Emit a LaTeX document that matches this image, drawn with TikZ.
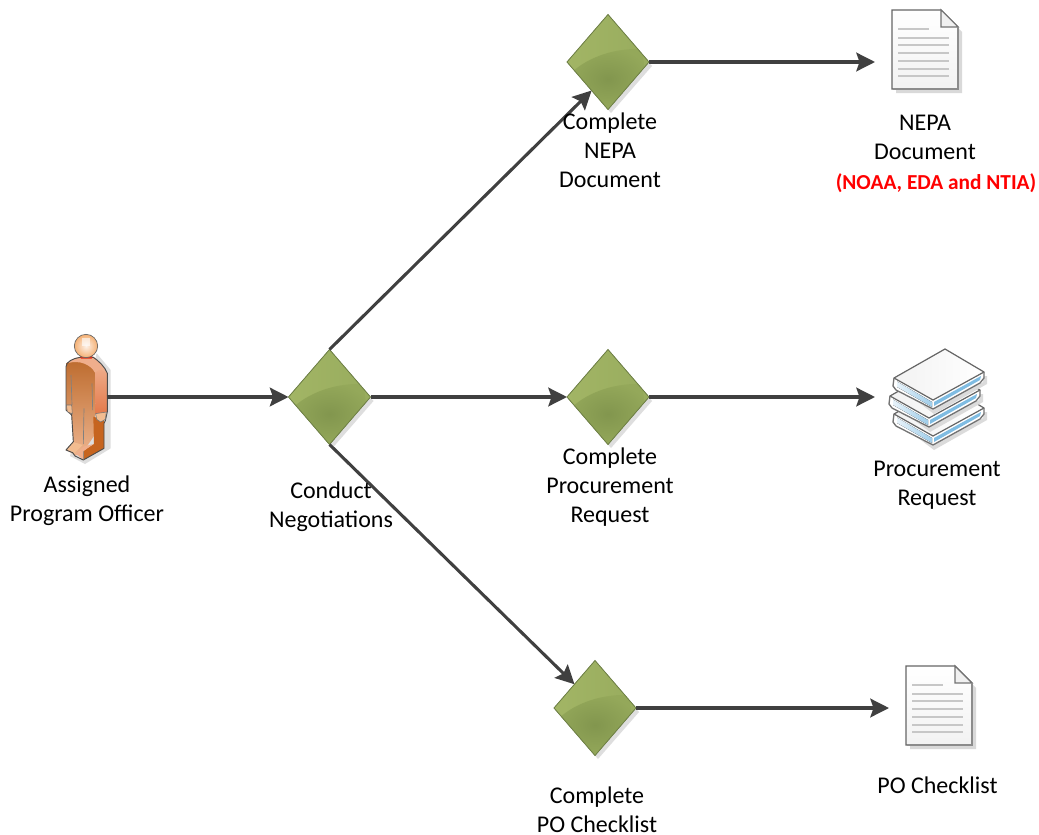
\documentclass[tikz,border=0pt]{standalone}
\usepackage{fontspec}
\setmainfont{Carlito}
\usetikzlibrary{shapes.geometric,arrows.meta,calc}
\definecolor{lineg}{HTML}{404040}
\definecolor{glossA}{HTML}{A2B565}
\definecolor{glossB}{HTML}{98AC5E}
\definecolor{glossC}{HTML}{82964E}
\definecolor{glossD}{HTML}{94A85A}
\definecolor{gridedge}{HTML}{6F8147}
\definecolor{skinA}{HTML}{BC6A2C}
\definecolor{skinB}{HTML}{EDB48E}
\definecolor{skinC}{HTML}{C6641F}
\definecolor{skinD}{HTML}{E4794A}
\definecolor{skinE}{HTML}{EFAE8C}
\definecolor{skinF}{HTML}{F2BC90}
\definecolor{bookblue}{HTML}{7FBCE2}
\definecolor{bookpale}{HTML}{CFE6F4}
\tikzset{
  gate/.style={shape=diamond,minimum width=61.5pt,minimum height=71.25pt,aspect=1,inner sep=0pt,outer sep=0pt,draw=none},
  conn/.style={draw=lineg,line width=2.3pt,-{Stealth[length=14pt,width=14pt,inset=2.4pt]}},
  lab/.style={font=\fontsize{18}{21.75}\selectfont,align=center,inner sep=0pt,text=black},
  redlab/.style={font=\fontsize{16}{19}\selectfont\bfseries,align=center,inner sep=0pt,text=red},
  iconbox/.style={inner sep=0pt,outer sep=0pt,draw=none,minimum width=75pt,minimum height=60pt},
}
\newcommand{\gatebox}[3]{%
  \begin{scope}[shift={(#2,#3)}]
    \fill[black!13] (44,4) -- (3,51) -- (-38,4) -- (3,-43) -- cycle;
    \fill[glossA] (41,0) -- (0,47.5) -- (-41,0) -- (0,-47.5) -- cycle;
    \begin{scope}
      \clip (41,0) -- (0,47.5) -- (-41,0) -- (0,-47.5) -- cycle;
      \fill[left color=glossA,right color=glossB] (-41,-48) rectangle (41,48);
      \path[inner color=glossC,outer color=glossD,shading=radial]
         (-36,10) .. controls (-18,-6) and (8,-14) .. (34,-13) -- (42,48) -- (-42,48) -- cycle;
    \end{scope}
    \draw[gridedge,line width=0.6pt] (41,0) -- (0,47.5) -- (-41,0) -- (0,-47.5) -- cycle;
  \end{scope}
  \node[gate] (#1) at (#2,#3) {};}
\newcommand{\pageicon}[2]{%
  \begin{scope}[shift={(#1,#2)}]
    \fill[black!15] (4,4) -- (52,4) -- (70,22) -- (70,83) -- (4,83) -- cycle;
    \draw[black!60,line width=0.8pt,top color=white,bottom color=black!5] (0,0) -- (49,0) -- (66,17) -- (66,79) -- (0,79) -- cycle;
    \draw[black!55,line width=0.8pt,fill=black!6] (49,0) -- (49,17) -- (66,17) -- cycle;
    \draw[black!45,line width=1.1pt] (0.5,79) -- (66,79) -- (66,17);
    \draw[black!22,line width=0.8pt] (6,19) -- (37,19) (6,28) -- (57,28) (6,35) -- (57,35)
      (6,43) -- (57,43) (6,51) -- (57,51) (6,59) -- (57,59) (6,66) -- (57,66);
  \end{scope}}
\newcommand{\bookicon}[2]{%
  \begin{scope}[shift={(#1,#2)}]
    \fill[black!14] (-36,38) -- (1,66) -- (54,36) -- (54,28) -- cycle;
    \fill[white] (-39,30) -- (12,1) -- (51,24) -- (50,34) -- (0,61) -- (-39,41) -- cycle;
    \fill[left color=black!5,right color=white] (-39,30) -- (12,1) -- (51,24) -- (0,52) -- cycle;
    \fill[left color=bookpale!50,right color=bookblue!75] (-36,33.5) -- (-1,54) -- (-1,59) -- (-36,39) -- cycle;
    \fill[bookblue] (1,54) -- (48,28) -- (47,32) -- (1,58) -- cycle;
    \draw[black!60,line width=0.9pt,line join=round] (-39,30) -- (12,1) -- (51,24) -- (0,52) -- cycle;
    \draw[black!55,line width=1pt,line join=round] (-39,30) -- (-40,38) -- (-37,42) -- (0,61) -- (47,35) -- (51,30) -- (51,24);
  \end{scope}}
\begin{document}
\begin{tikzpicture}[x=0.75pt,y=-0.75pt]
\useasboundingbox (0,0) rectangle (1039,835);
\fill[white] (0,0) rectangle (1039,835);

% person
\begin{scope}[shift={(30,320)},x=0.25pt,y=-0.25pt]
  \fill[black!13] (200,100) -- (242,150) -- (242,385) -- (165,432) -- (120,408) -- cycle;
  % front of body and legs
  \shade[top color=skinA,bottom color=skinB]
    (108,130) -- (150,112) -- (190,112) -- (196,160) -- (196,280) -- (194,345) -- (160,395) -- (135,408) -- (128,398) -- (108,390)
    -- (130,365) -- (125,285) -- (108,270) -- cycle;
  % outer side of leg
  \fill[skinC] (190,290) -- (222,300) -- (222,385) -- (160,420) -- (160,392) -- (192,372) -- cycle;
  % arm
  \shade[top color=skinE,bottom color=skinD] (195,155) -- (215,135) -- (232,160) -- (232,277) -- (196,282) -- cycle;
  % shoulder
  \fill[skinE] (110,130) .. controls (125,116) and (140,112) .. (155,110) -- (190,110)
     .. controls (205,122) and (222,138) .. (232,160) -- (215,150)
     .. controls (208,148) and (200,152) .. (195,158) .. controls (183,135) and (150,118) .. (110,130) -- cycle;
  % feet
  \fill[skinF] (107,390) -- (130,366) -- (158,375) -- (131,402) -- cycle;
  \fill[skinE] (138,402) -- (160,380) -- (190,372) -- (160,394) -- (160,419) -- cycle;
  % outline
  \draw[black!70,line width=0.7pt,line join=round]
    (108,140) .. controls (108,125) and (130,115) .. (150,112) -- (190,112)
    .. controls (205,122) and (225,140) .. (232,160) -- (232,275) -- (226,302) -- (222,310)
    -- (222,385) -- (160,420) -- (135,408) -- (128,398) -- (108,390)
    -- (130,365) -- (125,285) -- (108,270) -- cycle;
  \draw[black!50,line width=0.5pt] (123,165) -- (126,255) (186,190) -- (188,270) (162,265) -- (160,372) (160,394) -- (160,419);
  % hands
  \fill[skinF,draw=black!55,line width=0.4pt] (109,255) -- (125,255) -- (127,282) -- (112,275) -- cycle;
  \fill[skinF,draw=black!55,line width=0.4pt] (197,281) -- (229,276) -- (226,298) -- (212,306) -- (200,298) -- cycle;
  % neck and head
  \fill[red!60!skinA] (150,106) -- (188,106) -- (185,116) -- (153,116) -- cycle;
  \begin{scope}
    \clip (168,78) circle (35);
    \shade[inner color=white!80!skinF,outer color=skinF!80!orange] (133,43) rectangle (203,113);
    \fill[white,opacity=0.6] (156,55) rectangle (180,78);
  \end{scope}
  \draw[black!60,line width=0.5pt] (168,78) circle (35);
\end{scope}
\node[iconbox,minimum width=1pt,minimum height=94.5pt] (person) at (106,397) {};

\gatebox{conduct}{329.5}{397}
\gatebox{nepa}{608}{62}
\gatebox{proc}{608}{397}
\gatebox{po}{595}{708}

\pageicon{892}{10}
\node[iconbox] (docA) at (925,50) {};
\pageicon{906}{666}
\node[iconbox] (docB) at (939,706) {};
\bookicon{933}{384}
\bookicon{929}{366}
\bookicon{933}{348}
\node[iconbox] (books) at (925,397) {};

\draw[conn] (person.east) -- (conduct.west);
\draw[conn] (conduct.east) -- (proc.west);
\draw[conn] (conduct.north) -- ($(nepa.south)!0.4!(nepa.west)$);
\draw[conn] (conduct.south) -- (po.north west);
\draw[conn] (nepa.east) -- (nepa.east -| docA.west);
\draw[conn] (proc.east) -- (proc.east -| books.west);
\draw[conn] (po.east) -- (po.east -| docB.west);

\node[lab] (t1) at (87,500.5) {Assigned\\Program Officer};
\node[lab] (t2) at (331,507) {Conduct\\Negotiations};
\node[lab] (t3) at (610,150.5) {Complete\\NEPA\\Document};
\node[lab] (t4) at (610,487) {Complete\\Procurement\\Request};
\node[lab] (t5) at (597,810) {Complete\\PO Checklist};
\node[lab] (t6) at (925,137.5) {NEPA\\Document};
\node[redlab] (t7) at (936,183) {(NOAA, EDA and NTIA)};
\node[lab] (t8) at (937,485.5) {Procurement\\Request};
\node[lab] (t9) at (937.5,785) {PO Checklist};
\end{tikzpicture}
\end{document}
